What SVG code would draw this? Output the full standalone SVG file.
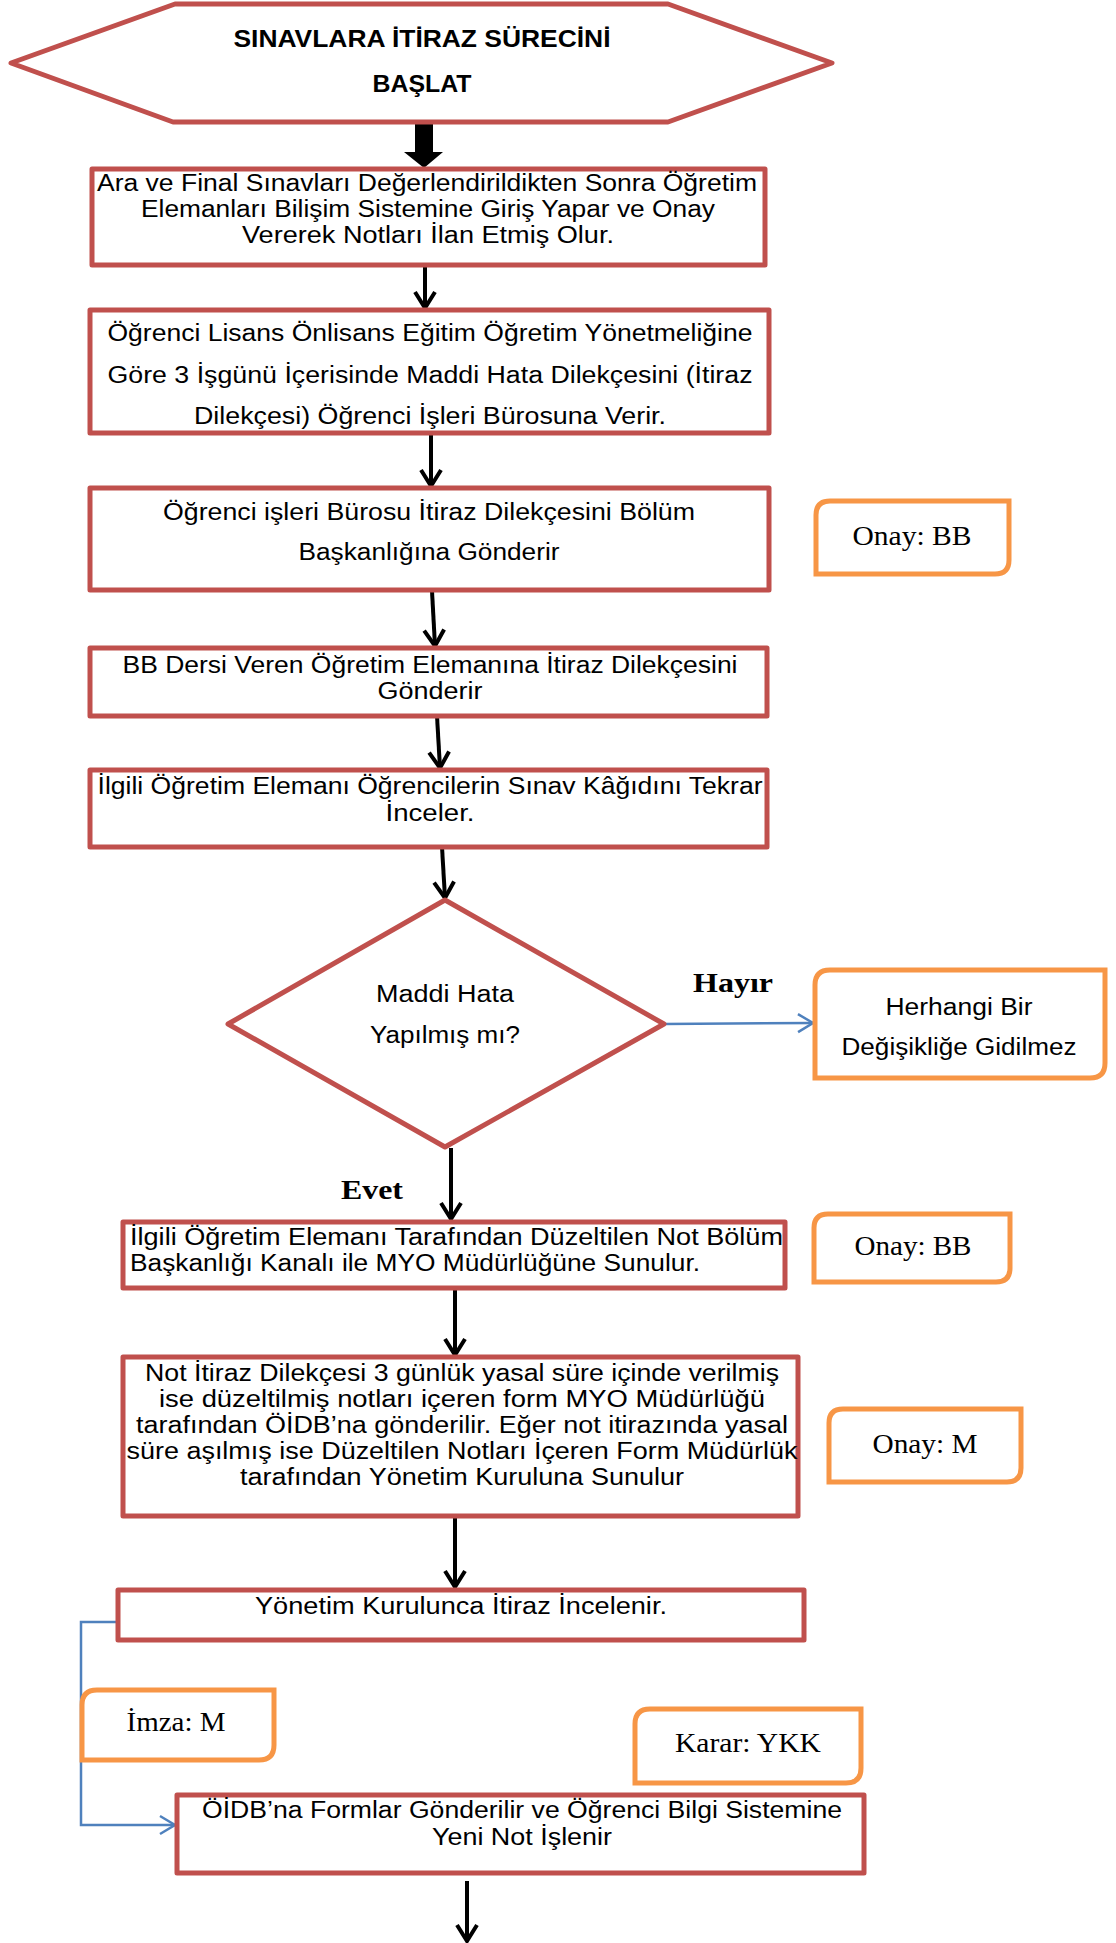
<svg xmlns="http://www.w3.org/2000/svg" width="1116" height="1943" viewBox="0 0 1116 1943">
<style>
.bg{fill:#fff}
.box{fill:#fff;stroke:#C0504D;stroke-width:5;stroke-linejoin:round}
.note{fill:#fff;stroke:#F79646;stroke-width:5}
.t{font-family:"Liberation Sans",Arial,sans-serif;font-size:23px;fill:#000;text-anchor:middle}
.tl{font-family:"Liberation Sans",Arial,sans-serif;font-size:23px;fill:#000;text-anchor:start}
.tb{font-family:"Liberation Sans",Arial,sans-serif;font-size:24px;font-weight:bold;fill:#000;text-anchor:middle}
.s{font-family:"Liberation Serif","Times New Roman",serif;font-size:27px;fill:#000;text-anchor:middle}
.sb{font-family:"Liberation Serif","Times New Roman",serif;font-size:28px;font-weight:bold;fill:#000;text-anchor:start}
.arr{stroke:#000;stroke-width:4;fill:none}
.blue{stroke:#4F81BD;stroke-width:2.5;fill:none}
</style>
<defs>
<marker id="ah" viewBox="0 0 20 24" refX="18" refY="12" markerWidth="20" markerHeight="24" markerUnits="userSpaceOnUse" orient="auto">
<path d="M2,2 L18,12 L2,22" fill="none" stroke="#000" stroke-width="4"/>
</marker>
<marker id="bh" viewBox="0 0 20 24" refX="18" refY="12" markerWidth="20" markerHeight="24" markerUnits="userSpaceOnUse" orient="auto">
<path d="M3,3 L18,12 L3,21" fill="none" stroke="#4F81BD" stroke-width="2.5"/>
</marker>
</defs>
<rect class="bg" x="0" y="0" width="1116" height="1943"/>

<g id="connectors">
<path d="M415,121 H433 V152 H443 L424,168 L404,152 H415 Z" fill="#000"/>
<line class="arr" x1="425" y1="266" x2="425" y2="308" marker-end="url(#ah)"/>
<line class="arr" x1="431" y1="433" x2="431" y2="486" marker-end="url(#ah)"/>
<line class="arr" x1="432" y1="591" x2="435" y2="646" marker-end="url(#ah)"/>
<line class="arr" x1="437" y1="716" x2="440" y2="768" marker-end="url(#ah)"/>
<line class="arr" x1="442" y1="847" x2="445" y2="898" marker-end="url(#ah)"/>
<line class="blue" x1="664" y1="1024" x2="813" y2="1023" marker-end="url(#bh)"/>
<line class="arr" x1="451" y1="1148" x2="451" y2="1219" marker-end="url(#ah)"/>
<line class="arr" x1="455" y1="1289" x2="455" y2="1355" marker-end="url(#ah)"/>
<line class="arr" x1="455" y1="1516" x2="455" y2="1587" marker-end="url(#ah)"/>
<path class="blue" d="M117,1622 H81 V1825 H175" marker-end="url(#bh)"/>
<line class="arr" x1="467" y1="1881" x2="467" y2="1941" marker-end="url(#ah)"/>
</g>

<g id="start">
<polygon class="box" points="11,63 175,4 668,4 832,63 668,122 173,122"/>
<text class="tb" x="422" y="47" textLength="377" lengthAdjust="spacingAndGlyphs">SINAVLARA İTİRAZ SÜRECİNİ</text>
<text class="tb" x="422" y="92" textLength="99" lengthAdjust="spacingAndGlyphs">BAŞLAT</text>
</g>

<g id="box1">
<rect class="box" x="92" y="169" width="673" height="96"/>
<text class="t" x="427" y="191" textLength="660" lengthAdjust="spacingAndGlyphs">Ara ve Final Sınavları Değerlendirildikten Sonra Öğretim</text>
<text class="t" x="428" y="217" textLength="574" lengthAdjust="spacingAndGlyphs">Elemanları Bilişim Sistemine Giriş Yapar ve Onay</text>
<text class="t" x="428" y="243" textLength="372" lengthAdjust="spacingAndGlyphs">Vererek Notları İlan Etmiş Olur.</text>
</g>

<g id="box2">
<rect class="box" x="90" y="310" width="679" height="123"/>
<text class="t" x="430" y="341" textLength="645" lengthAdjust="spacingAndGlyphs">Öğrenci Lisans Önlisans Eğitim Öğretim Yönetmeliğine</text>
<text class="t" x="430" y="383" textLength="645" lengthAdjust="spacingAndGlyphs">Göre 3 İşgünü İçerisinde Maddi Hata Dilekçesini (İtiraz</text>
<text class="t" x="430" y="424" textLength="472" lengthAdjust="spacingAndGlyphs">Dilekçesi) Öğrenci İşleri Bürosuna Verir.</text>
</g>

<g id="box3">
<rect class="box" x="90" y="488" width="679" height="102"/>
<text class="t" x="429" y="520" textLength="532" lengthAdjust="spacingAndGlyphs">Öğrenci işleri Bürosu İtiraz Dilekçesini Bölüm</text>
<text class="t" x="429" y="560" textLength="261" lengthAdjust="spacingAndGlyphs">Başkanlığına Gönderir</text>
</g>

<g id="onay1">
<path class="note" d="M830,501 H1009 V560 Q1009,574 995,574 H816 V515 Q816,501 830,501 Z"/>
<text class="s" x="912" y="545" textLength="119" lengthAdjust="spacingAndGlyphs">Onay: BB</text>
</g>

<g id="box4">
<rect class="box" x="90" y="648" width="677" height="68"/>
<text class="t" x="430" y="673" textLength="615" lengthAdjust="spacingAndGlyphs">BB Dersi Veren Öğretim Elemanına İtiraz Dilekçesini</text>
<text class="t" x="430" y="699" textLength="105" lengthAdjust="spacingAndGlyphs">Gönderir</text>
</g>

<g id="box5">
<rect class="box" x="90" y="770" width="677" height="77"/>
<text class="t" x="430" y="794" textLength="665" lengthAdjust="spacingAndGlyphs">İlgili Öğretim Elemanı Öğrencilerin Sınav Kâğıdını Tekrar</text>
<text class="t" x="430" y="821" textLength="89" lengthAdjust="spacingAndGlyphs">İnceler.</text>
</g>

<g id="decision">
<polygon class="box" points="445,900 664,1024 445,1147 228,1024"/>
<text class="t" x="445" y="1002" textLength="138" lengthAdjust="spacingAndGlyphs">Maddi Hata</text>
<text class="t" x="445" y="1043" textLength="150" lengthAdjust="spacingAndGlyphs">Yapılmış mı?</text>
</g>

<g id="labels">
<text class="sb" x="693" y="992" textLength="80" lengthAdjust="spacingAndGlyphs">Hayır</text>
<text class="sb" x="341" y="1199" textLength="62" lengthAdjust="spacingAndGlyphs">Evet</text>
</g>

<g id="nochange">
<path class="note" d="M830,970 H1105 V1063 Q1105,1078 1090,1078 H815 V985 Q815,970 830,970 Z"/>
<text class="t" x="959" y="1015" textLength="147" lengthAdjust="spacingAndGlyphs">Herhangi Bir</text>
<text class="t" x="959" y="1055" textLength="235" lengthAdjust="spacingAndGlyphs">Değişikliğe Gidilmez</text>
</g>

<g id="box6">
<rect class="box" x="123" y="1222" width="662" height="66"/>
<text class="tl" x="130" y="1245" textLength="653" lengthAdjust="spacingAndGlyphs">İlgili Öğretim Elemanı Tarafından Düzeltilen Not Bölüm</text>
<text class="tl" x="130" y="1271" textLength="570" lengthAdjust="spacingAndGlyphs">Başkanlığı Kanalı ile MYO Müdürlüğüne Sunulur.</text>
</g>

<g id="onay2">
<path class="note" d="M828,1214 H1010 V1268 Q1010,1282 996,1282 H814 V1228 Q814,1214 828,1214 Z"/>
<text class="s" x="913" y="1255" textLength="117" lengthAdjust="spacingAndGlyphs">Onay: BB</text>
</g>

<g id="box7">
<rect class="box" x="123" y="1357" width="675" height="159"/>
<text class="t" x="462" y="1381" textLength="634" lengthAdjust="spacingAndGlyphs">Not İtiraz Dilekçesi 3 günlük yasal süre içinde verilmiş</text>
<text class="t" x="462" y="1407" textLength="606" lengthAdjust="spacingAndGlyphs">ise düzeltilmiş notları içeren form MYO Müdürlüğü</text>
<text class="t" x="462" y="1433" textLength="652" lengthAdjust="spacingAndGlyphs">tarafından ÖİDB’na gönderilir. Eğer not itirazında yasal</text>
<text class="t" x="462" y="1459" textLength="671" lengthAdjust="spacingAndGlyphs">süre aşılmış ise Düzeltilen Notları İçeren Form Müdürlük</text>
<text class="t" x="462" y="1485" textLength="444" lengthAdjust="spacingAndGlyphs">tarafından Yönetim Kuruluna Sunulur</text>
</g>

<g id="onay3">
<path class="note" d="M843,1409 H1021 V1468 Q1021,1482 1007,1482 H829 V1423 Q829,1409 843,1409 Z"/>
<text class="s" x="925" y="1453" textLength="105" lengthAdjust="spacingAndGlyphs">Onay: M</text>
</g>

<g id="box8">
<rect class="box" x="118" y="1590" width="686" height="50"/>
<text class="t" x="461" y="1614" textLength="412" lengthAdjust="spacingAndGlyphs">Yönetim Kurulunca İtiraz İncelenir.</text>
</g>

<g id="imza">
<path class="note" d="M97,1690 H274 V1745 Q274,1760 259,1760 H82 V1705 Q82,1690 97,1690 Z"/>
<text class="s" x="176" y="1731" textLength="99" lengthAdjust="spacingAndGlyphs">İmza: M</text>
</g>

<g id="karar">
<path class="note" d="M650,1709 H861 V1768 Q861,1783 846,1783 H635 V1724 Q635,1709 650,1709 Z"/>
<text class="s" x="748" y="1752" textLength="146" lengthAdjust="spacingAndGlyphs">Karar: YKK</text>
</g>

<g id="box9">
<rect class="box" x="177" y="1795" width="687" height="78"/>
<text class="t" x="522" y="1818" textLength="640" lengthAdjust="spacingAndGlyphs">ÖİDB’na Formlar Gönderilir ve Öğrenci Bilgi Sistemine</text>
<text class="t" x="522" y="1845" textLength="180" lengthAdjust="spacingAndGlyphs">Yeni Not İşlenir</text>
</g>
</svg>
